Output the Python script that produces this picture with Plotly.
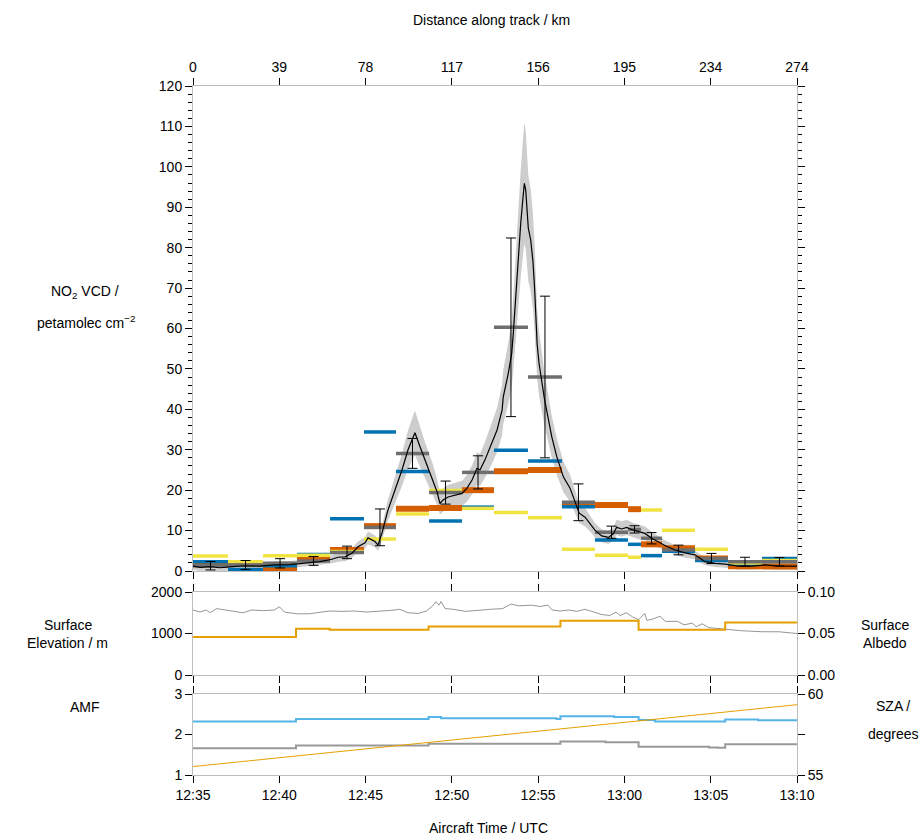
import plotly.graph_objects as go

# ---------------- data (time in minutes after 12:35 UTC) ----------------
time_ticks = [0, 5, 10, 15, 20, 25, 30, 35]
time_labels = ["12:35", "12:40", "12:45", "12:50", "12:55", "13:00", "13:05", "13:10"]
dist_labels = ["0", "39", "78", "117", "156", "195", "234", "274"]

# aircraft NO2 VCD (high resolution) and its uncertainty
ac_t = [0, 0.41, 0.99, 1.56, 2.14, 3.01, 3.88, 4.75, 5.62, 6.49, 7.36, 8.05, 8.40, 8.81,
        9.21, 9.56, 9.97, 10.14, 10.55, 10.72, 10.95, 11.30, 11.71, 12.11, 12.46, 12.86,
        13.15, 13.44, 13.85, 14.14, 14.31, 14.49, 14.78, 15.18, 15.59, 15.88, 16.17, 16.46,
        16.63, 16.92, 17.33, 17.62, 17.91, 17.98, 18.27, 18.47, 18.56, 18.66, 18.79, 18.89,
        18.99, 19.11, 19.20, 19.28, 19.34, 19.43, 19.57, 19.70, 19.80, 19.86, 19.94, 20.05,
        20.21, 20.36, 20.79, 21.08, 21.46, 21.85, 22.14, 22.38, 22.72, 23.01, 23.29, 23.68,
        24.07, 24.36, 24.55, 24.84, 25.13, 25.51, 25.80, 26.19, 26.58, 26.96, 27.35, 27.93,
        28.51, 29.09, 29.67, 30.25, 30.83, 31.58, 32.39, 33.15, 33.90, 35.0]
ac_no2 = [1.2, 0.9, 1.1, 0.8, 1.0, 1.3, 1.2, 1.5, 1.6, 2.0, 2.3, 2.9, 3.4, 3.5, 4.4, 6.0,
          7.0, 8.2, 7.3, 6.4, 9.4, 15.1, 20.0, 25.0, 30.0, 34.2, 30.8, 27.5, 23.3, 19.6,
          16.7, 17.6, 18.3, 18.8, 19.2, 20.5, 22.5, 25.4, 25.0, 27.5, 31.6, 34.9, 39.8,
          43.1, 48.9, 53.9, 58.8, 65.4, 74.5, 81.9, 86.0, 91.8, 95.9, 94.3, 89.3, 84.8,
          81.9, 76.5, 69.5, 62.9, 56.3, 51.4, 46.4, 42.7, 33.2, 28.3, 23.3, 20.5, 17.1,
          14.3, 13.3, 11.8, 10.1, 8.7, 8.3, 9.2, 10.8, 10.4, 10.8, 10.1, 9.7, 9.3, 8.1,
          7.2, 6.3, 5.2, 4.5, 4.0, 2.3, 1.9, 1.7, 1.2, 1.2, 1.5, 1.2, 1.2]
ac_err = [0.9] * 11 + [1.0, 1.1, 1.1, 1.2, 1.3, 1.4, 1.6, 1.5, 1.4, 1.8, 2.6, 3.2, 4.0, 4.8,
          5.5, 5.0, 4.4, 3.8, 3.2, 2.8, 2.9, 3.0, 3.0, 3.1, 3.3, 3.6, 4.0, 4.0, 4.4, 5.0,
          5.5, 6.2, 6.7, 7.6, 8.4, 9.1, 10.1, 11.5, 12.6, 13.3, 14.2, 15.0, 14.6, 13.8,
          13.1, 12.6, 11.8, 10.8, 9.7, 8.7, 8.0, 7.2, 6.6, 5.2, 4.5, 3.8, 3.3, 2.8, 2.4,
          2.3, 2.0, 1.8, 1.6, 1.6, 1.7, 1.9, 1.9, 1.9, 1.8, 1.8, 1.7, 1.6, 1.4, 1.3, 1.2,
          1.2, 1.1] + [0.9] * 8

# pixel bins along the track
bin_edges = [0, 2.03, 4.06, 6.03, 7.94, 9.91, 11.76, 13.68, 15.59, 17.44, 19.41, 21.38,
             23.29, 25.21, 25.96, 27.18, 29.09, 31.0, 32.97, 35.0]
ac_binned = [1.3, 1.5, 1.9, 2.5, 4.6, 10.8, 29.1, 19.4, 24.4, 60.3, 48.0, 17.0, 9.6, 10.3,
             8.1, 5.2, 3.1, 2.3, 2.3]
ac_binned_err = [1.05, 1.1, 1.15, 1.1, 1.55, 4.55, 3.7, 2.85, 4.1, 22.1, 20.0, 4.55, 1.5,
                 0.9, 1.4, 1.2, 1.25, 1.1, 1.05]
sat_blue = [2.3, 0.4, 1.3, 4.1, 12.9, 34.4, 24.6, 12.4, 15.8, 29.9, 27.2, 15.9, 7.7, 6.6,
            3.8, 4.9, 2.6, 1.7, 3.1]
sat_orange = [2.0, 1.8, 0.25, 3.4, 5.2, 11.1, 15.4, 15.6, 20.0, 24.7, 25.0, 16.6, 16.3,
              15.3, 6.6, 5.6, 3.1, 1.2, 1.1]
sat_yellow = [3.7, 2.3, 3.8, 3.9, 4.8, 7.9, 14.1, 19.9, 15.5, 14.5, 13.2, 5.4, 3.9, 3.4,
              15.1, 10.1, 5.4, 2.0, 2.6]

# surface elevation (m)
elev_t = [0, 0.41, 0.76, 1.00, 1.36, 1.96, 2.55, 2.91, 3.39, 4.10, 4.70, 5.01, 5.30, 6.01,
          6.73, 7.21, 7.92, 8.64, 9.36, 10.07, 10.79, 11.50, 11.98, 12.46, 13.05, 13.53,
          13.89, 14.08, 14.25, 14.37, 14.61, 15.08, 15.80, 16.52, 17.23, 17.95, 18.42,
          18.90, 19.62, 20.10, 20.57, 20.81, 21.29, 21.77, 22.24, 22.72, 23.20, 23.68,
          24.15, 24.51, 24.75, 25.11, 25.47, 25.82, 26.18, 26.30, 26.66, 27.06, 27.37,
          28.09, 28.45, 28.93, 29.16, 29.52, 29.88, 30.24, 31.07, 31.79, 32.98, 33.94, 35.0]
elev_m = [1567, 1517, 1567, 1500, 1600, 1567, 1533, 1500, 1567, 1550, 1567, 1642, 1517,
          1475, 1475, 1500, 1542, 1533, 1542, 1517, 1533, 1558, 1583, 1500, 1483, 1542,
          1667, 1767, 1683, 1767, 1600, 1583, 1533, 1567, 1583, 1600, 1708, 1667, 1683,
          1650, 1683, 1567, 1542, 1567, 1533, 1583, 1517, 1458, 1433, 1517, 1433, 1500,
          1400, 1333, 1483, 1317, 1350, 1417, 1292, 1292, 1208, 1250, 1167, 1233, 1142,
          1125, 1100, 1067, 1042, 1042, 1000]

# surface albedo (steps)
alb_t = [0, 5.97, 7.92, 13.65, 21.29, 25.82, 30.84, 35.0]
alb_v = [0.0458, 0.0558, 0.0546, 0.0583, 0.0654, 0.0546, 0.0633, 0.0633]

# air mass factors (steps)
amf1_t = [0, 5.97, 13.65, 14.37, 21.06, 21.29, 24.39, 25.82, 26.77, 30.84, 32.74, 35.0]
amf1_v = [2.32, 2.38, 2.43, 2.40, 2.38, 2.45, 2.43, 2.36, 2.32, 2.37, 2.35, 2.35]
amf2_t = [0, 5.97, 13.65, 21.29, 23.9, 25.82, 29.9, 30.4, 30.84, 35.0]
amf2_v = [1.66, 1.73, 1.77, 1.83, 1.81, 1.70, 1.68, 1.67, 1.76, 1.76]

# solar zenith angle (degrees)
sza_t = [0, 35.0]
sza_v = [55.52, 59.34]

# ---------------- styles ----------------
C_BLUE = "#0072B2"
C_ORANGE = "#D55E00"
C_YELLOW = "#F0E442"
C_GREY = "#6E6E6E"
C_BAND = "#CDCDCD"
C_FRAME = "#BDBDBD"
FONT = "Liberation Sans, Arial, Helvetica, sans-serif"


def segments(edges, vals):
    xs, ys = [], []
    for i, v in enumerate(vals):
        xs += [edges[i], edges[i + 1], None]
        ys += [v, v, None]
    return xs, ys


fig = go.Figure()

# uncertainty band
band_lo = [v - e for v, e in zip(ac_no2, ac_err)]
band_hi = [v + e for v, e in zip(ac_no2, ac_err)]
fig.add_trace(go.Scatter(x=ac_t, y=band_lo, mode="lines", line=dict(width=0, color=C_BAND),
                         hoverinfo="skip", xaxis="x", yaxis="y"))
fig.add_trace(go.Scatter(x=ac_t, y=band_hi, mode="lines", line=dict(width=0, color=C_BAND),
                         fill="tonexty", fillcolor=C_BAND, hoverinfo="skip", xaxis="x", yaxis="y"))

# satellite / binned bars
for vals, col, w in [(sat_orange, C_ORANGE, 6), (sat_blue, C_BLUE, 3.5),
                     (sat_yellow, C_YELLOW, 3.5), (ac_binned, C_GREY, 3.5)]:
    xs, ys = segments(bin_edges, vals)
    fig.add_trace(go.Scatter(x=xs, y=ys, mode="lines", line=dict(color=col, width=w),
                             connectgaps=False, xaxis="x", yaxis="y"))

# aircraft line
fig.add_trace(go.Scatter(x=ac_t, y=ac_no2, mode="lines", line=dict(color="black", width=1.2),
                         xaxis="x", yaxis="y"))

# error bars on binned aircraft values
centers = [(bin_edges[i] + bin_edges[i + 1]) / 2 for i in range(len(ac_binned))]
fig.add_trace(go.Scatter(x=centers, y=ac_binned, mode="markers", marker=dict(size=1, opacity=0),
                         error_y=dict(type="data", array=ac_binned_err, color="black",
                                      thickness=1, width=5),
                         xaxis="x", yaxis="y"))

# dummy trace for the distance axis
fig.add_trace(go.Scatter(x=[0, 35], y=[None, None], mode="markers", xaxis="x4", yaxis="y",
                         hoverinfo="skip"))

# middle panel
fig.add_trace(go.Scatter(x=elev_t, y=elev_m, mode="lines", line=dict(color="#7A7A7A", width=0.8),
                         xaxis="x2", yaxis="y2"))
fig.add_trace(go.Scatter(x=alb_t, y=alb_v, mode="lines", line=dict(color="#E69F00", width=2, shape="hv"),
                         xaxis="x2", yaxis="y5"))

# bottom panel
fig.add_trace(go.Scatter(x=amf1_t, y=amf1_v, mode="lines", line=dict(color="#56B4E9", width=2, shape="hv"),
                         xaxis="x3", yaxis="y3"))
fig.add_trace(go.Scatter(x=amf2_t, y=amf2_v, mode="lines", line=dict(color="#999999", width=2, shape="hv"),
                         xaxis="x3", yaxis="y3"))
fig.add_trace(go.Scatter(x=sza_t, y=sza_v, mode="lines", line=dict(color="#E69F00", width=1),
                         xaxis="x3", yaxis="y6"))

H = 689.0
dom_main = [(775 - 571) / H, 1.0]
dom_mid = [(775 - 675) / H, (775 - 592) / H]
dom_bot = [0.0, (775 - 694) / H]

tickfont = dict(family=FONT, size=14, color="black")
common_x = dict(range=[0, 35], tickmode="array", tickvals=time_ticks, ticks="outside",
                ticklen=7, tickwidth=1.2, tickcolor="black", showline=True, linecolor=C_FRAME,
                linewidth=1, showgrid=False, zeroline=False, tickfont=tickfont)
common_y = dict(ticks="outside", ticklen=7, tickwidth=1.2, tickcolor="black", showline=True,
                linecolor=C_FRAME, linewidth=1, showgrid=False, zeroline=False, tickfont=tickfont)

fig.update_layout(
    width=921, height=839,
    margin=dict(l=193, r=124, t=86, b=64),
    paper_bgcolor="white", plot_bgcolor="white",
    showlegend=False,
    font=dict(family=FONT, size=14, color="black"),
    xaxis=dict(**common_x, anchor="y", showticklabels=False, mirror=True),
    xaxis4=dict(**common_x, overlaying="x", side="top", anchor="y", ticktext=dist_labels,
                showticklabels=True),
    xaxis2=dict(**common_x, anchor="y2", showticklabels=False, mirror="ticks"),
    xaxis3=dict(**common_x, anchor="y3", showticklabels=True, ticktext=time_labels, mirror="ticks"),
    yaxis=dict(**common_y, domain=dom_main, range=[0, 120], dtick=10, mirror="ticks",
               minor=dict(dtick=2, ticklen=4, ticks="outside", tickcolor="black", tickwidth=1)),
    yaxis2=dict(**common_y, domain=dom_mid, range=[0, 2000], tickvals=[0, 1000, 2000], mirror="ticks"),
    yaxis5=dict(**common_y, overlaying="y2", side="right", anchor="x2", range=[0, 0.1],
                tickvals=[0, 0.05, 0.1], tickformat=".2f"),
    yaxis3=dict(**common_y, domain=dom_bot, range=[1, 3], tickvals=[1, 2, 3], mirror="ticks"),
    yaxis6=dict(**common_y, overlaying="y3", side="right", anchor="x3", range=[55, 60],
                tickvals=[55, 60]),
)
fig.update_layout(xaxis4_ticktext=dist_labels, xaxis3_ticktext=time_labels)


def px_x(p):
    return (p - 193) / 604.0


def px_y(p):
    return (775 - p) / H


labels = [
    ("Distance along track / km", 491, 20),
    ("Aircraft Time / UTC", 488, 828),
    ("NO<sub>2</sub> VCD /", 85, 292),
    ("petamolec cm<sup>−2</sup>", 86, 322),
    ("Surface", 68, 625),
    ("Elevation / m", 67, 643),
    ("Surface", 885, 625),
    ("Albedo", 885, 643),
    ("AMF", 85, 707),
    ("SZA /", 893, 706),
    ("degrees", 893, 734),
]
for txt, x, y in labels:
    fig.add_annotation(text=txt, xref="paper", yref="paper", x=px_x(x), y=px_y(y),
                       xanchor="center", yanchor="middle", showarrow=False,
                       font=dict(family=FONT, size=14, color="black"))

fig.write_html("out.html")
